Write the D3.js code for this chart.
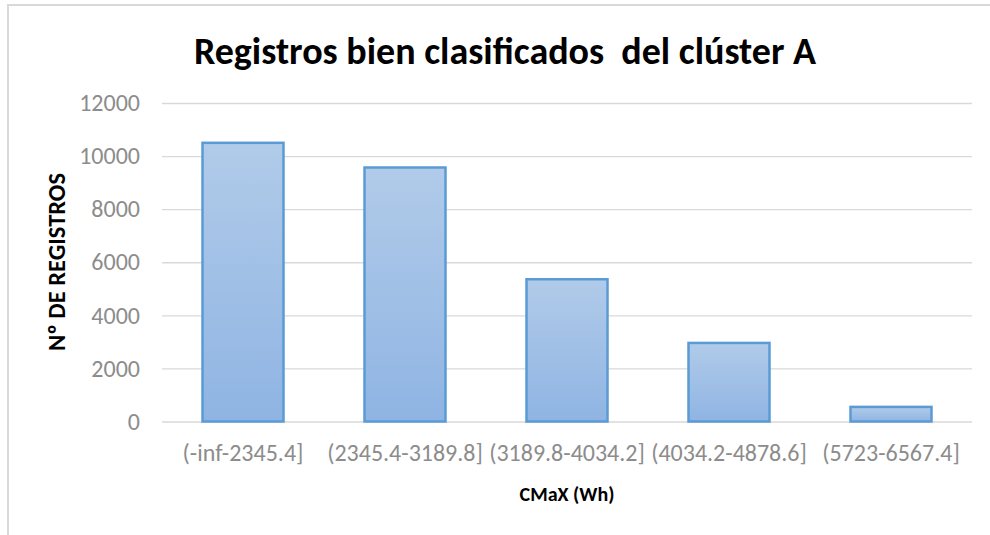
<!DOCTYPE html>
<html>
<head>
<meta charset="utf-8">
<script src="https://cdn.jsdelivr.net/npm/d3@7"></script>
<style>
  body { margin: 0; background: #fff; }
  svg { display: block; font-family: Carlito, Calibri, Lato, "Open Sans", sans-serif; }
</style>
</head>
<body>
<svg id="chart"></svg>
<script>
const width = 990;
const height = 535;

const categories = ["(-inf-2345.4]", "(2345.4-3189.8]", "(3189.8-4034.2]", "(4034.2-4878.6]", "(5723-6567.4]"];
const values = [10500, 9570, 5360, 2960, 550];
const yTicks = [0, 2000, 4000, 6000, 8000, 10000, 12000];

const margin = {top: 103, right: 18, bottom: 113.5, left: 162};
const clipWidth = width - margin.left - margin.right;
const clipHeight = height - margin.top - margin.bottom;

const svg = d3.select("#chart")
    .attr("width", width)
    .attr("height", height);

// outer frame
svg.append("path")
    .attr("d", `M8,${height} V5 H${width}`)
    .attr("fill", "none")
    .attr("stroke", "#d9d9d9")
    .attr("stroke-width", 2);

const defs = svg.append("defs");
const grad = defs.append("linearGradient")
    .attr("id", "barFill")
    .attr("x1", 0).attr("y1", 0).attr("x2", 0).attr("y2", 1);
grad.append("stop").attr("offset", "0%").attr("stop-color", "#b1cbe9");
grad.append("stop").attr("offset", "100%").attr("stop-color", "#8fb4e3");

const g = svg.append("g")
    .attr("transform", `translate(${margin.left}, ${margin.top})`);

const x = d3.scaleBand()
    .domain(categories)
    .range([0, clipWidth])
    .paddingInner(0.5)
    .paddingOuter(0.25);

const y = d3.scaleLinear()
    .domain([0, 12000])
    .range([clipHeight, 0]);

// gridlines + tick labels
const yAxis = g.append("g")
    .call(d3.axisLeft(y).tickValues(yTicks).tickFormat(d3.format("d")).tickSize(-clipWidth).tickPadding(22))
    .call(a => a.select(".domain").remove());
yAxis.selectAll(".tick line")
    .attr("stroke", "#d9d9d9")
    .attr("stroke-width", 1.3);
yAxis.selectAll(".tick text")
    .attr("fill", "#8c8c8c")
    .style("font-size", "24px")
    .style("font-family", "Carlito, Calibri, Lato, sans-serif");

// bars
g.append("g")
    .selectAll("rect")
    .data(values)
    .join("rect")
    .attr("x", (d, i) => x(categories[i]))
    .attr("y", d => y(d))
    .attr("width", x.bandwidth())
    .attr("height", d => y(0) - y(d))
    .attr("fill", "url(#barFill)")
    .attr("stroke", "#5b9bd5")
    .attr("stroke-width", 2.5);

// x labels
const xAxis = g.append("g")
    .attr("transform", `translate(0, ${clipHeight})`)
    .call(d3.axisBottom(x).tickSize(0).tickPadding(22))
    .call(a => a.select(".domain").remove());
xAxis.selectAll(".tick text")
    .attr("fill", "#8c8c8c")
    .style("font-size", "24px")
    .style("font-family", "Carlito, Calibri, Lato, sans-serif");

// title
svg.append("text")
    .attr("x", 505)
    .attr("y", 64)
    .attr("text-anchor", "middle")
    .attr("font-weight", "bold")
    .attr("fill", "#000")
    .style("font-size", "38px")
    .style("white-space", "pre")
    .text("Registros bien clasificados  del clúster A");

// axis titles
svg.append("text")
    .attr("x", margin.left + clipWidth / 2)
    .attr("y", 501)
    .attr("text-anchor", "middle")
    .attr("font-weight", "bold")
    .attr("fill", "#000")
    .style("font-size", "20px")
    .text("CMaX (Wh)");

svg.append("text")
    .attr("transform", "translate(65, 262) rotate(-90)")
    .attr("text-anchor", "middle")
    .attr("font-weight", "bold")
    .attr("fill", "#000")
    .style("font-size", "24.5px")
    .text("Nº DE REGISTROS");
</script>
</body>
</html>
